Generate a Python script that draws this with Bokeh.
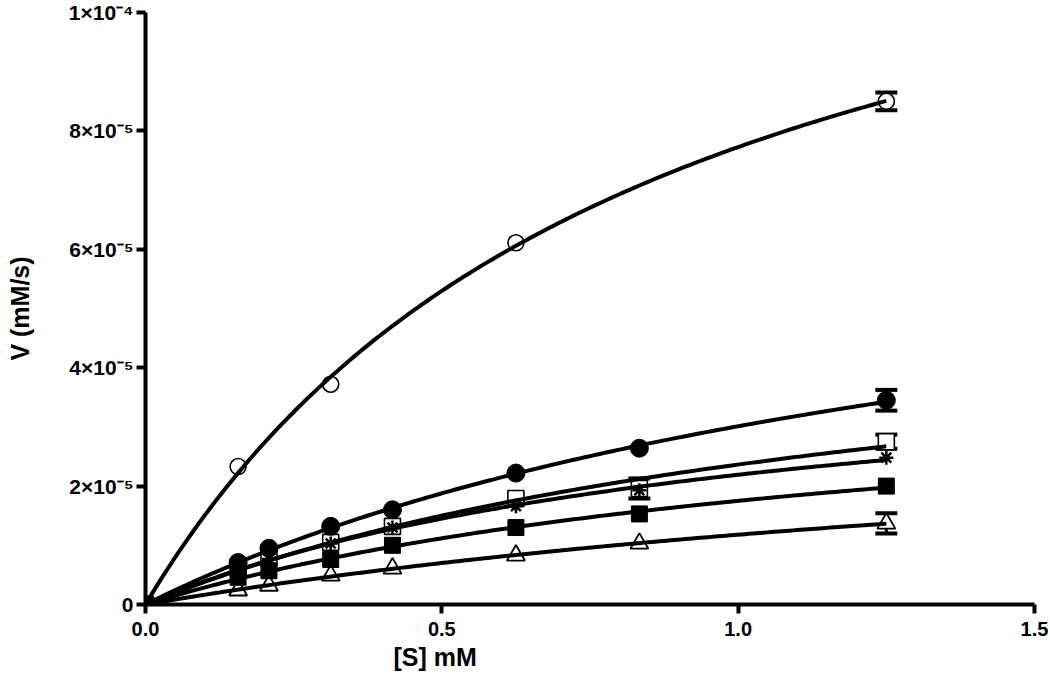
import numpy as np
from bokeh.plotting import figure
from bokeh.models import ColumnDataSource, Whisker, TeeHead, FixedTicker, Title
from bokeh.embed import file_html
from bokeh.resources import INLINE

# ---- data ----
S = [0.0, 0.15625, 0.2083, 0.3125, 0.4167, 0.625, 0.8333, 1.25]
S_open_circle = [0.0, 0.15625, 0.3125, 0.625, 1.25]

v_open_circle = [0.0, 2.33e-5, 3.72e-5, 6.11e-5, 8.50e-5]
v_filled_circle = [0.0, 0.71e-5, 0.95e-5, 1.32e-5, 1.60e-5, 2.22e-5, 2.64e-5, 3.45e-5]
v_open_square = [0.0, 0.62e-5, 0.78e-5, 1.05e-5, 1.32e-5, 1.79e-5, 1.96e-5, 2.75e-5]
v_asterisk = [0.0, 0.60e-5, 0.77e-5, 1.03e-5, 1.30e-5, 1.66e-5, 1.93e-5, 2.48e-5]
v_filled_square = [0.0, 0.46e-5, 0.57e-5, 0.76e-5, 1.00e-5, 1.30e-5, 1.53e-5, 2.00e-5]
v_triangle = [0.0, 0.24e-5, 0.32e-5, 0.49e-5, 0.61e-5, 0.83e-5, 1.03e-5, 1.37e-5]

# error bars (SEM) -- only those visible in the reference
err_x = [1.25, 1.25, 1.25, 0.8333, 1.25]
err_center = [8.50e-5, 3.45e-5, 2.75e-5, 1.96e-5, 1.37e-5]
err_size = [1.5e-6, 1.75e-6, 1.2e-6, 1.7e-6, 1.7e-6]

x_ticks = [0.0, 0.5, 1.0, 1.5]
x_tick_labels = ["0.0", "0.5", "1.0", "1.5"]
y_ticks = [0.0, 2e-5, 4e-5, 6e-5, 8e-5, 1e-4]
y_tick_labels = ["0", "2×10⁻⁵", "4×10⁻⁵", "6×10⁻⁵", "8×10⁻⁵", "1×10⁻⁴"]

FONT = "Liberation Sans"


def mm_fit(x, y):
    """Least-squares Michaelis-Menten fit: V = Vmax*S/(Km+S)."""
    x = np.asarray(x, float)
    y = np.asarray(y, float)
    best = None
    for km in np.linspace(0.02, 6.0, 6000):
        f = x / (km + x)
        vmax = float(f @ y) / float(f @ f)
        sse = float(((vmax * f - y) ** 2).sum())
        if best is None or sse < best[0]:
            best = (sse, vmax, km)
    return best[1], best[2]


p = figure(width=1048, height=676, x_range=(0, 1.5), y_range=(0, 1e-4),
           output_backend="svg", toolbar_location=None,
           min_border_left=145, min_border_right=14, min_border_top=12,
           min_border_bottom=72)
p.outline_line_color = None
p.grid.visible = False
p.background_fill_color = "white"

for ax in (p.xaxis[0], p.yaxis[0]):
    ax.axis_line_width = 4
    ax.axis_line_color = "black"
    ax.major_tick_line_width = 4
    ax.major_tick_out = 9
    ax.major_tick_in = 0
    ax.minor_tick_line_color = None
    ax.major_label_text_font = FONT
    ax.major_label_text_font_style = "bold"
    ax.major_label_text_color = "black"

p.xaxis.major_label_text_font_size = "20px"
p.yaxis.major_label_text_font_size = "21px"

p.xaxis.ticker = FixedTicker(ticks=x_ticks)
p.xaxis.major_label_overrides = dict(zip(x_ticks, x_tick_labels))
p.xaxis.major_label_standoff = 8

p.yaxis.ticker = FixedTicker(ticks=y_ticks)
p.yaxis.major_label_overrides = dict(zip(y_ticks, y_tick_labels))
p.yaxis.major_label_standoff = 3
p.yaxis.axis_label = "V (mM/s)"
p.yaxis.axis_label_text_font = FONT
p.yaxis.axis_label_text_font_style = "bold"
p.yaxis.axis_label_text_font_size = "25px"
p.yaxis.axis_label_text_color = "black"
p.yaxis.axis_label_standoff = 32

p.add_layout(Title(text="[S] mM", align="left", offset=248, standoff=4,
                   text_font=FONT, text_font_style="bold", text_font_size="25px",
                   text_color="black"), "below")

series = [
    (S_open_circle, v_open_circle, "circle", "white", 16, 1.6),
    (S, v_triangle, "triangle", "white", 18, 1.8),
    (S, v_open_square, "square", "white", 16, 1.6),
    (S, v_asterisk, "asterisk", "black", 14, 2.5),
    (S, v_filled_circle, "circle", "black", 18, 1.0),
    (S, v_filled_square, "square", "black", 16, 1.0),
]

for xs, ys, mk, fill, size, lw in series:
    p.scatter(xs, ys, marker=mk, size=size, fill_color=fill, line_color="black",
              line_width=lw)

sfit = np.linspace(0, 1.25, 200)
for xs, ys, *_ in series:
    vmax, km = mm_fit(xs, ys)
    p.line(sfit, vmax * sfit / (km + sfit), line_width=4, color="black")

err_src = ColumnDataSource(dict(
    x=err_x,
    upper=[c + e for c, e in zip(err_center, err_size)],
    lower=[c - e for c, e in zip(err_center, err_size)],
))
p.add_layout(Whisker(source=err_src, base="x", upper="upper", lower="lower",
                     line_width=3, line_color="black",
                     upper_head=TeeHead(size=22, line_width=4, line_color="black"),
                     lower_head=TeeHead(size=22, line_width=4, line_color="black")))

open("out.html", "w").write(file_html(p, INLINE))
